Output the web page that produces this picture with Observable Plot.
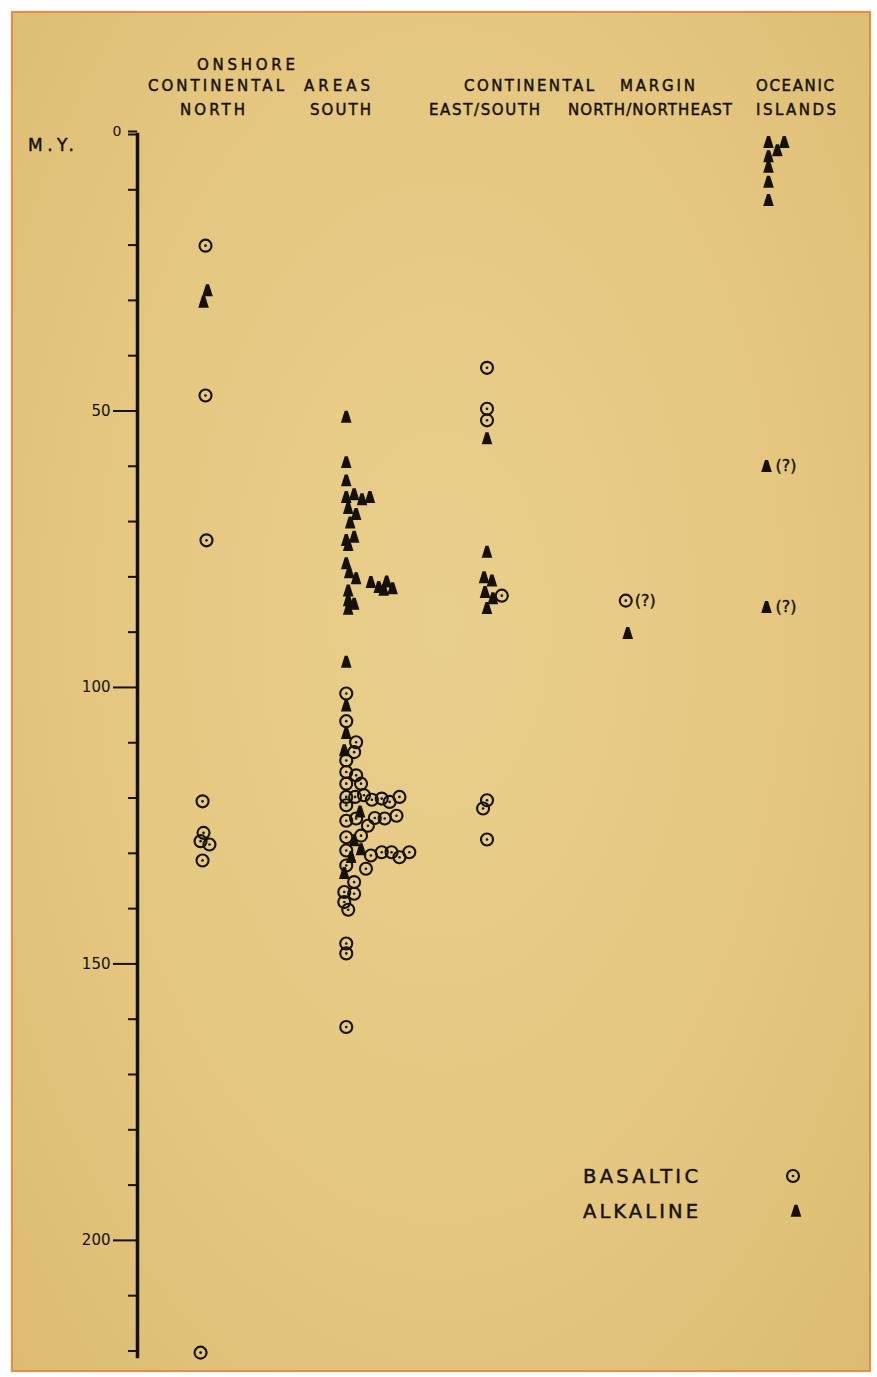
<!DOCTYPE html>
<html><head><meta charset="utf-8">
<script src="https://cdn.jsdelivr.net/npm/d3@7"></script>
<script src="https://cdn.jsdelivr.net/npm/@observablehq/plot@0.6"></script>
<style>
html,body{margin:0;padding:0;background:#fff;width:877px;height:1377px;overflow:hidden}
#paper{position:absolute;left:11px;top:11px;width:856px;height:1357px;border:2px solid #ee8a3c;
  background:radial-gradient(ellipse at 50% 45%, #e9cf8c 0%, #e4c67f 60%, #dcbc72 100%);}
#chart{position:absolute;left:0;top:0}
</style></head><body><div id="paper"></div><div id="chart"></div>
<script>
// Column categories (x order)
const columns = ["NORTH", "SOUTH", "EAST/SOUTH", "NORTH/NORTHEAST", "OCEANIC ISLANDS"];
// Axis ticks (M.Y.)
const minorTicks = [0,10,20,30,40,60,70,80,90,110,120,130,140,160,170,180,190,210,220];
const majorTicks = [50,100,150,200];
const zeroTick = [0];

// Points per column: [age in M.Y., position in the tally row]
const northBasaltic = [[20.1,0],[47.2,0],[73.4,0.1],[120.6,-0.3],[126.3,-0.2],[127.8,-0.5],[128.4,0.4],[131.3,-0.3],[220.3,-0.5]];
const northAlkaline = [[28.2,0.2],[30.3,-0.2]];

const southAlkaline = [
  [51.1,0],[59.3,0],[62.6,0],
  [65.6,0],[65.1,0.8],[66.0,1.6],[65.6,2.4],
  [67.6,0.2],[68.7,1.0],[70.2,0.4],
  [72.8,0.8],[73.4,0],[74.3,0.2],
  [77.6,0],[79.2,0.3],[80.3,1.0],
  [81.0,2.5],[81.9,3.3],[80.9,4.1],[82.1,4.7],[82.4,3.8],
  [82.5,0.2],[84.3,0.2],[84.9,0.8],[85.8,0.2],
  [95.4,0],[103.3,0],[108.3,0],[111.4,-0.2],
  [122.5,1.4],[127.7,0.8],[129.3,1.5],[130.7,0.5],[133.6,-0.2]
];
const southBasaltic = [
  [101.1,0],[106.1,0],[109.9,1.0],[111.7,0.8],[113.2,0],
  [115.3,0],[115.9,1.0],[117.4,0],[117.4,1.5],
  [119.8,0],[119.8,0.9],[119.5,1.8],[120.3,2.6],[120.1,3.6],[120.7,4.4],[119.8,5.4],
  [121.3,0],
  [124.1,0],[123.7,1.0],[125.0,2.2],[123.6,2.9],[123.7,3.9],[123.2,5.1],
  [127.1,0],[126.8,1.5],
  [129.5,0],[130.4,2.5],[129.8,3.6],[129.8,4.6],[130.7,5.4],[129.8,6.4],
  [132.2,0],[132.8,2.0],
  [135.2,0.8],[137.0,-0.2],[137.3,0.8],[138.8,-0.2],[140.2,0.2],
  [146.3,0],[148.1,0],[161.4,0]
];

const eastBasaltic = [[42.2,0],[49.6,0],[51.7,0],[83.4,1.5],[120.4,0],[121.9,-0.4],[127.5,0]];
const eastAlkaline = [[55.0,0],[75.5,0],[80.1,-0.3],[80.7,0.5],[82.8,-0.2],[83.9,0.6],[85.7,0]];

const northeastBasaltic = [[84.3,-0.2]];
const northeastAlkaline = [[90.2,0]];

const oceanicAlkaline = [[1.4,0],[1.4,1.6],[2.9,0.9],[4.0,0],[5.9,0],[8.6,0],[11.9,0]];
const oceanicQueried = [[60.0,-0.2],[85.5,-0.2]];
const northeastQueried = [[84.3,-0.2]];

// Build tables
function rows(list, col, type, q=false){ return list.map(([age,s]) => ({col, age, s, type, q})); }
const basaltic = [
  ...rows(northBasaltic,0,"B"), ...rows(southBasaltic,1,"B"), ...rows(eastBasaltic,2,"B"),
  ...rows(northeastBasaltic,3,"B")
];
const alkaline = [
  ...rows(northAlkaline,0,"A"), ...rows(southAlkaline,1,"A"), ...rows(eastAlkaline,2,"A"),
  ...rows(northeastAlkaline,3,"A"), ...rows(oceanicAlkaline,4,"A"), ...rows(oceanicQueried,4,"A")
];
const queried = [...rows(northeastQueried,3,"B",true), ...rows(oceanicQueried,4,"A",true)];

const ink = "#14110d";
const bell = {draw(ctx, size){ const r = Math.sqrt(size/Math.PI); const k = r/5;
  ctx.moveTo(-1.4*k,-5.8*k); ctx.lineTo(1.4*k,-5.8*k); ctx.lineTo(4.9*k,5.3*k); ctx.lineTo(-4.9*k,5.3*k); ctx.closePath(); }};

const X = d => d.col + d.s * 0.07;

const chart = Plot.plot({
  width: 877, height: 1377,
  marginTop: 134, marginBottom: 21, marginLeft: 137, marginRight: 0,
  style: {background: "transparent", fontFamily: "DejaVu Sans", color: ink, overflow: "visible"},
  x: {domain: [0, 4], range: [205, 768], axis: null},
  y: {domain: [0, 221], range: [134, 1356], axis: null},
  marks: [
    Plot.frame({anchor: "left", stroke: ink, strokeWidth: 3.5}),
    Plot.axisY({ticks: minorTicks, tickSize: 9, strokeWidth: 2, stroke: ink, text: null, label: null}),
    Plot.axisY({ticks: zeroTick, tickSize: 9, strokeWidth: 2, stroke: ink, tickPadding: 7, fontSize: 14, dy: -3, fill: ink, label: null}),
    Plot.axisY({ticks: majorTicks, tickSize: 24, strokeWidth: 2, stroke: ink, tickPadding: 3, fontSize: 15, fill: ink, label: null}),
    Plot.dot(basaltic, {x: X, y: "age", r: 6, stroke: ink, strokeWidth: 2.1, fill: "none"}),
    Plot.dot(basaltic, {x: X, y: "age", r: 1.3, fill: ink}),
    Plot.dot(alkaline, {x: X, y: "age", r: 5.4, symbol: bell, fill: ink, stroke: "none"}),
    Plot.text(queried, {x: X, y: "age", text: () => "(?)", dx: 9, textAnchor: "start", fontSize: 16, fill: ink, stroke: ink, strokeWidth: 0.4})
  ]
});
document.getElementById("chart").appendChild(chart);

// Headers, axis title and legend as SVG text
const svg = d3.select(chart);
const g = svg.append("g").attr("fill", ink).attr("stroke", ink).attr("stroke-width", 0.45)
  .attr("font-family", "DejaVu Sans").attr("text-anchor", "start");
function label(txt, x0, x1, baseline, size){
  g.append("text").attr("x", x0).attr("y", baseline).attr("textLength", x1 - x0)
   .attr("lengthAdjust", "spacing").attr("text-anchor", "start").attr("font-size", size).text(txt);
}
label("ONSHORE", 197, 295, 70, 15);
label("CONTINENTAL", 148, 284, 91, 15);
label("AREAS", 304, 370, 91, 15);
label("NORTH", 180, 245, 115, 15);
label("SOUTH", 310, 371, 115, 15);
label("CONTINENTAL", 464, 594, 91, 15);
label("MARGIN", 620, 695, 91, 15);
label("EAST/SOUTH", 429, 540, 115, 15);
label("NORTH/NORTHEAST", 568, 732, 115, 15);
label("OCEANIC", 756, 834, 91, 15);
label("ISLANDS", 756, 836, 115, 15);
label("M.Y.", 28, 74, 151, 17);
label("BASALTIC", 583, 698, 1183, 19.5);
label("ALKALINE", 583, 698, 1218, 19.5);
// legend symbols
const lg = svg.append("g");
lg.append("circle").attr("cx", 793).attr("cy", 1176).attr("r", 6).attr("fill", "none").attr("stroke", ink).attr("stroke-width", 2.1);
lg.append("circle").attr("cx", 793).attr("cy", 1176).attr("r", 1.3).attr("fill", ink);
lg.append("path").attr("transform", "translate(796,1211)").attr("d", d3.symbol().type(bell).size(Math.PI*5.4*5.4)()).attr("fill", ink);
</script>
</body></html>
